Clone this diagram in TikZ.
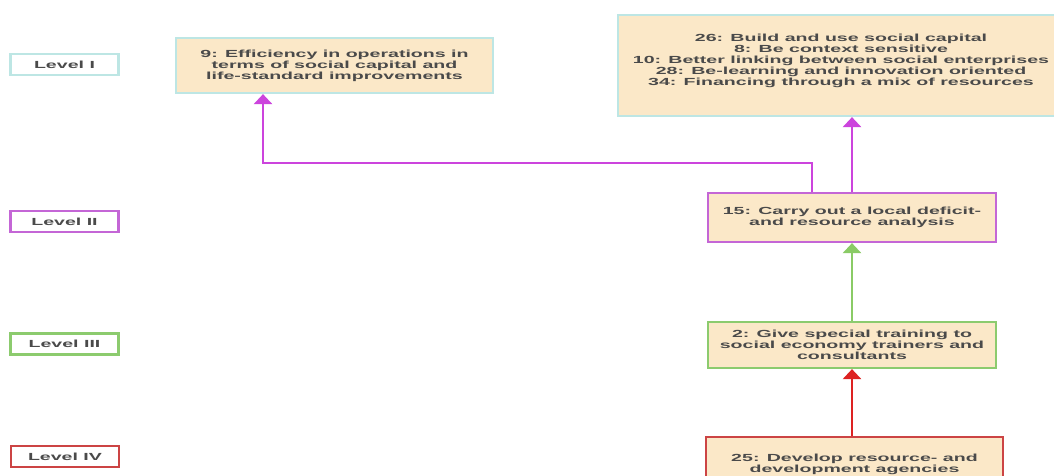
\documentclass[tikz,border=0pt]{standalone}
\usepackage{fontspec}
\newfontfamily\df[FakeStretch=1.9]{Liberation Sans}
\usetikzlibrary{arrows.meta}
\definecolor{cyanb}{HTML}{BDE6E4}
\definecolor{violetb}{HTML}{C466D6}
\definecolor{greenb}{HTML}{8CCB6E}
\definecolor{redb}{HTML}{CC4444}
\definecolor{wheatf}{HTML}{FBE8C8}
\definecolor{txt}{HTML}{4A4A4A}
\definecolor{magarrow}{HTML}{CC44DD}
\definecolor{greenarrow}{HTML}{8ACB66}
\definecolor{redarrow}{HTML}{DD2222}
\tikzset{
  lvl/.style={draw=#1, line width=2.2pt, fill=white, minimum width=108pt, minimum height=21pt, inner sep=0pt,
    font=\df\bfseries\fontsize{10.3}{11}\selectfont, text=txt},
  stepbox/.style={draw=#1, line width=2.2pt, fill=wheatf, inner sep=0pt, align=center,
    font=\df\bfseries\fontsize{10.3}{11}\selectfont, text=txt},
  conn/.style={draw=#1, line width=2.5pt, -{Triangle[width=18pt,length=10pt,fill=#1]}}
}
\begin{document}
\begin{tikzpicture}[x=1pt,y=-1pt]
\useasboundingbox[fill=white] (0,0) rectangle (1054,475);
% level labels
\node[lvl=cyanb] (l1) at (64.5,64.5) {Level I};
\node[lvl=violetb] (l2) at (64.5,221.5) {Level II};
\node[lvl=greenb] (l3) at (64.5,344) {Level III};
\node[lvl=redb] (l4) at (65,456.5) {Level IV};
% step boxes
\node[stepbox=cyanb, minimum width=317pt, minimum height=55pt] (n9) at (334.5,65.5)
  {9: Efficiency in operations in\\terms of social capital and\\life-standard improvements};
\node[stepbox=cyanb, minimum width=446pt, minimum height=101pt, text depth=12pt] (n26) at (841,65.5)
  {26: Build and use social capital\\8: Be context sensitive\\10: Better linking between social enterprises\\28: Be-learning and innovation oriented\\34: Financing through a mix of resources};
\node[stepbox=violetb, minimum width=288pt, minimum height=49pt] (n15) at (852,217.5)
  {15: Carry out a local deficit-\\and resource analysis};
\node[stepbox=greenb, minimum width=288pt, minimum height=46pt] (n2) at (852,345)
  {2: Give special training to\\social economy trainers and\\consultants};
\node[stepbox=redb, minimum width=297pt, minimum height=55pt] (n25) at (854.5,464.5)
  {25: Develop resource- and\\development agencies};
% connectors
\coordinate (e1) at (812,163);
\coordinate (e2) at (263,163);
\draw[conn=magarrow] (n15.north -| e1) -- (e1) -- (e2) -- (n9.south -| e2);
\draw[conn=magarrow] (n15.north) -- (n26.south -| n15.north);
\draw[conn=greenarrow] (n2.north) -- (n15.south);
\draw[conn=redarrow] (n25.north -| n2.north) -- (n2.south);
\end{tikzpicture}
\end{document}
